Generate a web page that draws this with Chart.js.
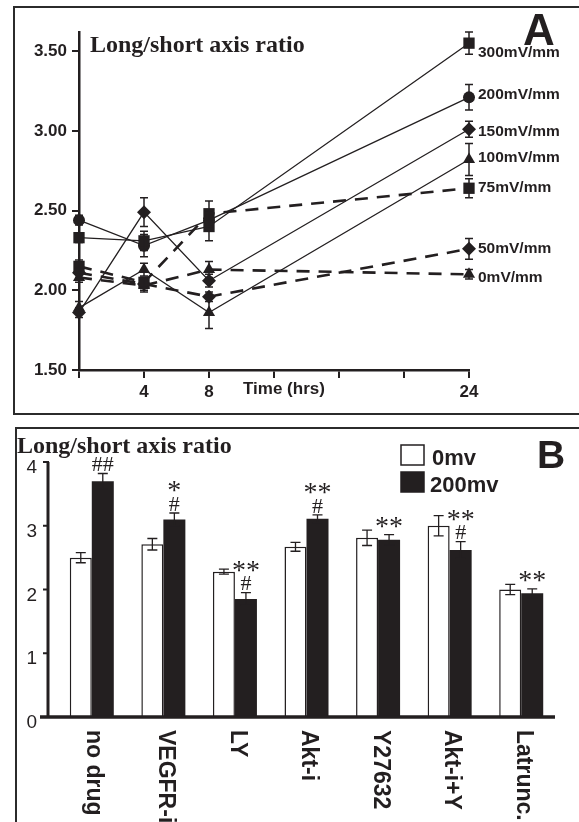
<!DOCTYPE html>
<html>
<head>
<meta charset="utf-8">
<script src="https://cdn.jsdelivr.net/npm/chart.js@4.4.1/dist/chart.umd.min.js"></script>
<style>
  body { margin: 0; background: #fff; width: 579px; height: 822px; overflow: hidden; position: relative; }
  .frame { position: absolute; box-sizing: border-box; border: 2.5px solid #2b2b2b; }
  #frame-a { left: 13px; top: 6px; width: 700px; height: 409px; }
  #frame-b { left: 15px; top: 427px; width: 700px; height: 500px; }
  canvas { position: absolute; left: 0; }
  #chart-a { top: 0; }
  #chart-b { top: 428px; }
</style>
</head>
<body>
<div class="frame" id="frame-a"></div>
<div class="frame" id="frame-b"></div>
<canvas id="chart-a" width="579" height="415"></canvas>
<canvas id="chart-b" width="579" height="394"></canvas>
<script>
// panel A data
const timeHrs = [0, 4, 8, 24];
const timeTicks = [0, 4, 8, 12, 16, 20, 24];
const timeLabels = [4, 8, 24];
const ratioTicks = [1.5, 2.0, 2.5, 3.0, 3.5];

const fieldNames = ["300mV/mm", "200mV/mm", "150mV/mm", "100mV/mm", "75mV/mm", "50mV/mm", "0mV/mm"];
const mv300 = [2.33, 2.31, 2.40, 3.55];
const mv200 = [2.44, 2.28, 2.44, 3.21];
const mv150 = [1.86, 2.49, 2.06, 3.01];
const mv100 = [1.89, 2.13, 1.86, 2.82];
const mv75 = [2.15, 2.05, 2.48, 2.64];
const mv50 = [2.11, 2.04, 1.96, 2.26];
const mv0 = [2.08, 2.03, 2.13, 2.10];

const mv300Err = [0.03, 0.06, 0.09, 0.07];
const mv200Err = [0.03, 0.07, 0.06, 0.08];
const mv150Err = [0.03, 0.09, 0.04, 0.05];
const mv100Err = [0.04, 0.04, 0.10, 0.10];
const mv75Err = [0.04, 0.03, 0.08, 0.06];
const mv50Err = [0.03, 0.04, 0.03, 0.065];
const mv0Err = [0.03, 0.04, 0.05, 0.03];

// panel B data
const drugs = ["no drug", "VEGFR-i", "LY", "Akt-i", "Y27632", "Akt-i+Y", "Latrunc."];
const ratio0mv = [2.50, 2.71, 2.28, 2.67, 2.81, 3.00, 2.00];
const ratio200mv = [3.70, 3.10, 1.85, 3.11, 2.78, 2.62, 1.94];
const err0mv = [0.08, 0.09, 0.04, 0.07, 0.12, 0.16, 0.08];
const err200mv = [0.12, 0.10, 0.10, 0.06, 0.08, 0.13, 0.07];
const starMarks = ["", "*", "**", "**", "**", "**", "**"];
const hashMarks = ["##", "#", "#", "#", "", "#", ""];

const ink = "#231f20";
const sans = "'Liberation Sans', Arial, sans-serif";
const serif = "'Liberation Serif', 'Times New Roman', serif";

Chart.defaults.color = ink;
Chart.defaults.font.family = sans;

const seriesA = [mv300, mv200, mv150, mv100, mv75, mv50, mv0];
const errorsA = [mv300Err, mv200Err, mv150Err, mv100Err, mv75Err, mv50Err, mv0Err];
const looksA = [
  { shape: "rect", r: 8, dash: [], width: 1.3, labelDy: 10 },
  { shape: "circle", r: 6, dash: [], width: 1.3, labelDy: -3 },
  { shape: "rectRot", r: 7, dash: [], width: 1.3, labelDy: 2 },
  { shape: "triangle", r: 7, dash: [], width: 1.3, labelDy: -2 },
  { shape: "rect", r: 8, dash: [13, 9], width: 2.6, labelDy: -1 },
  { shape: "rectRot", r: 7, dash: [13, 9], width: 2.6, labelDy: 0 },
  { shape: "triangle", r: 7, dash: [13, 9], width: 2.6, labelDy: 3 },
];

const errorBarsA = {
  id: "errorBarsA",
  afterDatasetsDraw(chart) {
    const { ctx, scales: { x, y } } = chart;
    ctx.save();
    ctx.strokeStyle = ink;
    ctx.lineWidth = 1.5;
    chart.data.datasets.forEach((ds, k) => {
      errorsA[k].forEach((e, i) => {
        const px = x.getPixelForValue(timeHrs[i]);
        const top = y.getPixelForValue(seriesA[k][i] + e);
        const bot = y.getPixelForValue(seriesA[k][i] - e);
        ctx.beginPath();
        ctx.moveTo(px, top); ctx.lineTo(px, bot);
        ctx.moveTo(px - 4, top); ctx.lineTo(px + 4, top);
        ctx.moveTo(px - 4, bot); ctx.lineTo(px + 4, bot);
        ctx.stroke();
      });
    });
    ctx.restore();
  },
  afterDraw(chart) {
    const { ctx, scales: { x, y } } = chart;
    ctx.save();
    ctx.fillStyle = ink;
    ctx.textBaseline = "alphabetic";
    ctx.font = "bold 24px " + serif;
    ctx.fillText("Long/short axis ratio", 90, 52);
    ctx.font = "bold 44px " + sans;
    ctx.fillText("A", 523, 45);
    ctx.font = "bold 17px " + sans;
    ctx.fillText("Time (hrs)", 243, 394);
    ctx.font = "bold 15.5px " + sans;
    ctx.textBaseline = "middle";
    const last = timeHrs.length - 1;
    fieldNames.forEach((name, k) => {
      const px = x.getPixelForValue(timeHrs[last]) + 9;
      const py = y.getPixelForValue(seriesA[k][last]) + looksA[k].labelDy;
      ctx.fillText(name, px, py);
    });
    ctx.restore();
  },
};

const chartA = new Chart(document.querySelector("#chart-a"), {
  type: "line",
  data: {
    datasets: seriesA.map((vals, k) => ({
      label: fieldNames[k],
      data: vals.map((v, i) => ({ x: timeHrs[i], y: v })),
      borderColor: ink,
      backgroundColor: ink,
      borderWidth: looksA[k].width,
      borderDash: looksA[k].dash,
      pointStyle: looksA[k].shape,
      pointRadius: looksA[k].r,
      pointBorderWidth: 0,
      tension: 0,
      clip: false,
    })),
  },
  options: {
    responsive: false,
    animation: false,
    devicePixelRatio: 1,
    layout: { padding: { top: 32, right: 110, left: 0, bottom: 0 } },
    plugins: { legend: { display: false }, tooltip: { enabled: false } },
    scales: {
      x: {
        type: "linear",
        min: 0,
        max: 24,
        afterBuildTicks: (s) => { s.ticks = timeTicks.map((v) => ({ value: v })); },
        afterFit: (s) => { s.height = 45; },
        ticks: {
          font: { size: 17, weight: "bold" },
          padding: 4,
          maxRotation: 0,
          autoSkip: false,
          callback: (v) => (timeLabels.includes(v) ? String(v) : ""),
        },
        grid: { drawOnChartArea: false, tickLength: 8, color: ink, lineWidth: 2 },
        border: { color: ink, width: 2.5 },
      },
      y: {
        min: 1.5,
        max: 3.62,
        afterBuildTicks: (s) => { s.ticks = ratioTicks.map((v) => ({ value: v })); },
        afterFit: (s) => { s.width = 79; },
        ticks: {
          font: { size: 17, weight: "bold" },
          padding: 5,
          callback: (v) => Number(v).toFixed(2),
        },
        grid: { drawOnChartArea: false, tickLength: 7, color: ink, lineWidth: 2 },
        border: { color: ink, width: 2.5 },
      },
    },
  },
  plugins: [errorBarsA],
});

// panel B
const errorsB = [err0mv, err200mv];
const barsB = {
  id: "barsB",
  afterDatasetsDraw(chart) {
    const { ctx, scales: { x, y }, chartArea } = chart;
    ctx.save();
    ctx.strokeStyle = ink;
    ctx.fillStyle = ink;
    // axes
    const y0 = y.getPixelForValue(0);
    const axisX = chartArea.left - 8;
    ctx.lineWidth = 3;
    ctx.beginPath();
    ctx.moveTo(axisX, y0);
    ctx.lineTo(axisX, y.getPixelForValue(4));
    ctx.stroke();
    ctx.lineWidth = 2;
    y.ticks.forEach((t) => {
      if (t.value === 0) return;
      const py = y.getPixelForValue(t.value);
      ctx.beginPath();
      ctx.moveTo(axisX - 5, py);
      ctx.lineTo(axisX + 1, py);
      ctx.stroke();
    });
    ctx.lineWidth = 3.5;
    ctx.beginPath();
    ctx.moveTo(chartArea.left - 16, y0);
    ctx.lineTo(chartArea.right - 2, y0);
    ctx.stroke();

    // error bars
    ctx.lineWidth = 1.3;
    chart.data.datasets.forEach((ds, k) => {
      chart.getDatasetMeta(k).data.forEach((bar, i) => {
        const v = ds.data[i];
        const top = y.getPixelForValue(v + errorsB[k][i]);
        const bot = y.getPixelForValue(v - errorsB[k][i]);
        ctx.beginPath();
        ctx.moveTo(bar.x, top); ctx.lineTo(bar.x, bot);
        ctx.moveTo(bar.x - 5, top); ctx.lineTo(bar.x + 5, top);
        ctx.moveTo(bar.x - 5, bot); ctx.lineTo(bar.x + 5, bot);
        ctx.stroke();
      });
    });

    // significance marks over the 200mv bars
    ctx.textAlign = "center";
    ctx.textBaseline = "middle";
    chart.getDatasetMeta(1).data.forEach((bar, i) => {
      const top = y.getPixelForValue(ratio200mv[i] + err200mv[i]);
      if (hashMarks[i]) {
        ctx.font = "22px " + serif;
        ctx.fillText(hashMarks[i], bar.x, top - 8);
      }
      if (starMarks[i]) {
        ctx.font = "28px " + serif;
        ctx.fillText(starMarks[i], bar.x, top - (hashMarks[i] ? 21 : 7));
      }
    });

    // category labels, rotated to read downwards
    ctx.font = "bold 23px " + sans;
    ctx.textAlign = "left";
    drugs.forEach((name, i) => {
      const px = x.getPixelForValue(i);
      ctx.save();
      ctx.translate(px + 2, y0 + 13);
      ctx.rotate(Math.PI / 2);
      ctx.fillText(name, 0, 0);
      ctx.restore();
    });
    ctx.restore();
  },
  afterDraw(chart) {
    const { ctx } = chart;
    ctx.save();
    ctx.fillStyle = ink;
    ctx.textBaseline = "alphabetic";
    ctx.font = "bold 24px " + serif;
    ctx.fillText("Long/short axis ratio", 17, 25);
    ctx.font = "bold 39px " + sans;
    ctx.fillText("B", 537, 40);
    // legend
    ctx.font = "bold 22px " + sans;
    chart.data.datasets.forEach((ds, k) => {
      const by = 17 + k * 27;
      ctx.fillStyle = ds.backgroundColor;
      ctx.fillRect(401, by, 23, 20);
      ctx.strokeStyle = ink;
      ctx.lineWidth = 1.5;
      ctx.strokeRect(401, by, 23, 20);
      ctx.fillStyle = ink;
      ctx.fillText(ds.label, k === 0 ? 432 : 430, by + 20);
    });
    ctx.restore();
  },
};

const chartB = new Chart(document.querySelector("#chart-b"), {
  type: "bar",
  data: {
    labels: drugs,
    datasets: [
      { label: "0mv", data: ratio0mv, backgroundColor: "#ffffff", borderColor: ink, borderWidth: 1.5 },
      { label: "200mv", data: ratio200mv, backgroundColor: ink, borderColor: ink, borderWidth: 0 },
    ],
  },
  options: {
    responsive: false,
    animation: false,
    devicePixelRatio: 1,
    layout: { padding: { top: 34, right: 22, left: 0, bottom: 0 } },
    datasets: { bar: { categoryPercentage: 0.615, barPercentage: 1.0 } },
    plugins: { legend: { display: false }, tooltip: { enabled: false } },
    scales: {
      x: {
        afterFit: (s) => { s.height = 105; },
        ticks: { display: false },
        grid: { display: false },
        border: { display: false },
      },
      y: {
        min: 0,
        max: 4,
        afterFit: (s) => { s.width = 56; },
        ticks: { stepSize: 1, font: { size: 19 }, padding: 19, labelOffset: 6 },
        grid: { display: false, drawTicks: false },
        border: { display: false },
      },
    },
  },
  plugins: [barsB],
});
</script>
</body>
</html>
